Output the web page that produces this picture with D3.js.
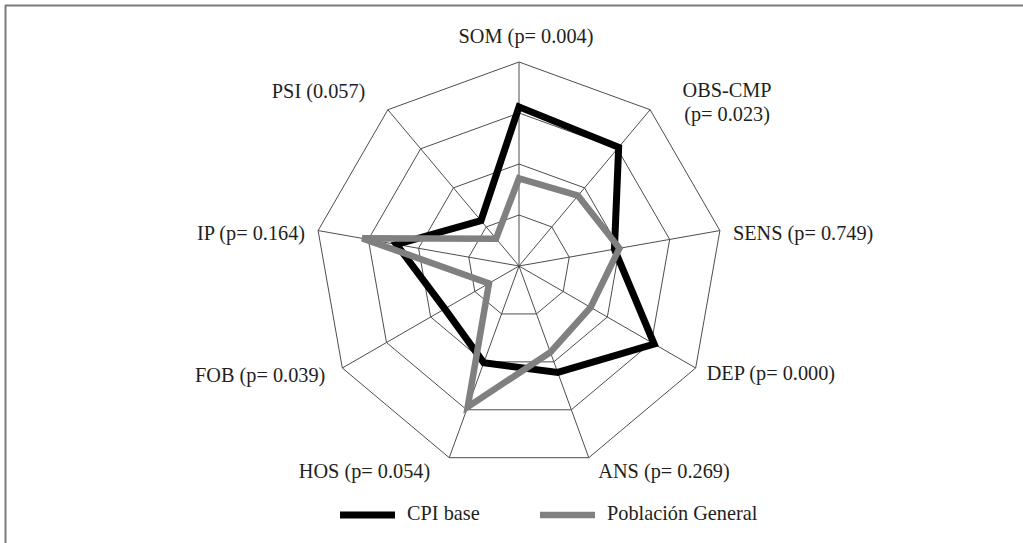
<!DOCTYPE html>
<html>
<head>
<meta charset="utf-8">
<script src="https://cdn.jsdelivr.net/npm/d3@7"></script>
<style>
  html, body { margin: 0; padding: 0; background: #fff; }
  svg { display: block; }
  text { font-family: "Liberation Serif", "DejaVu Serif", serif; fill: #231f20; }
</style>
</head>
<body>
<svg id="chart" width="1023" height="543"></svg>
<script>
// Scales on each axis (clockwise from the top)
const axes = ["SOM", "OBS-CMP", "SENS", "DEP", "ANS", "HOS", "FOB", "IP", "PSI"];
const axisLabels = [
  ["SOM (p= 0.004)"],
  ["OBS-CMP", "(p= 0.023)"],
  ["SENS (p= 0.749)"],
  ["DEP (p= 0.000)"],
  ["ANS (p= 0.269)"],
  ["HOS (p= 0.054)"],
  ["FOB (p= 0.039)"],
  ["IP (p= 0.164)"],
  ["PSI (0.057)"]
];
const seriesNames = ["CPI base", "Población General"];
const cpiBase = [78, 76, 47.5, 76.5, 55.5, 50.5, 42, 61, 29];
const poblacionGeneral = [43, 45, 50, 40.5, 45, 73.5, 17, 78, 17.5];
const gridLevels = [25, 50, 75, 100];

const svg = d3.select("#chart");
const W = 1023, H = 543;
const cx = 519, cy = 266, R = 204;

// Frame: top and left rules
svg.append("line").attr("x1", 5).attr("y1", 5.5).attr("x2", W).attr("y2", 5.5)
  .attr("stroke", "#7a7a7a").attr("stroke-width", 2);
svg.append("line").attr("x1", 5.5).attr("y1", 5).attr("x2", 5.5).attr("y2", H)
  .attr("stroke", "#7a7a7a").attr("stroke-width", 2);

const r = d3.scaleLinear().domain([0, 100]).range([0, R]);
const angle = d3.scaleLinear().domain([0, axes.length]).range([0, 2 * Math.PI]);

const g = svg.append("g").attr("transform", `translate(${cx},${cy})`);

const ring = d3.lineRadial()
  .angle((d, i) => angle(i))
  .radius(d => r(d))
  .curve(d3.curveLinearClosed);

// Grid polygons
g.selectAll("path.grid")
  .data(gridLevels)
  .join("path")
  .attr("class", "grid")
  .attr("d", lvl => ring(axes.map(() => lvl)))
  .attr("fill", "none")
  .attr("stroke", "#4d4d4d")
  .attr("stroke-width", 1);

// Spokes
g.selectAll("line.spoke")
  .data(axes)
  .join("line")
  .attr("class", "spoke")
  .attr("x1", 0).attr("y1", 0)
  .attr("x2", (d, i) => Math.sin(angle(i)) * r(100))
  .attr("y2", (d, i) => -Math.cos(angle(i)) * r(100))
  .attr("stroke", "#4d4d4d")
  .attr("stroke-width", 1);

// Series
const series = [
  { name: seriesNames[0], values: cpiBase, color: "#000000", width: 7 },
  { name: seriesNames[1], values: poblacionGeneral, color: "#808080", width: 6.5 }
];

g.selectAll("path.series")
  .data(series)
  .join("path")
  .attr("class", "series")
  .attr("d", s => ring(s.values))
  .attr("fill", "none")
  .attr("stroke", s => s.color)
  .attr("stroke-width", s => s.width)
  .attr("stroke-linejoin", "miter");

// Axis labels, placed relative to each outer vertex
const labelPlacement = [
  { dx: 7, dy: -19.5, anchor: "middle" },
  { dx: 77, dy: -13, anchor: "middle" },
  { dx: 13, dy: 9.5, anchor: "start" },
  { dx: 11, dy: 12, anchor: "start" },
  { dx: 9.5, dy: 20.5, anchor: "start" },
  { dx: -19, dy: 20.5, anchor: "end" },
  { dx: -17, dy: 13.5, anchor: "end" },
  { dx: -13, dy: 9.5, anchor: "end" },
  { dx: -22.5, dy: -11.5, anchor: "end" }
];

axes.forEach((a, i) => {
  const vx = Math.sin(angle(i)) * r(100);
  const vy = -Math.cos(angle(i)) * r(100);
  const p = labelPlacement[i];
  const t = g.append("text")
    .attr("x", vx + p.dx)
    .attr("y", vy + p.dy)
    .attr("text-anchor", p.anchor)
    .attr("font-size", 20.3);
  axisLabels[i].forEach((line, k) => {
    t.append("tspan")
      .attr("x", vx + p.dx)
      .attr("dy", k === 0 ? 0 : 24)
      .text(line);
  });
});

// Legend
const legend = svg.append("g").attr("transform", "translate(340,515)");
const legendX = d3.scalePoint().domain(seriesNames).range([0, 200]);
const item = legend.selectAll("g.item")
  .data(series)
  .join("g")
  .attr("class", "item")
  .attr("transform", s => `translate(${legendX(s.name)},0)`);
item.append("line")
  .attr("x1", 0).attr("x2", 55).attr("y1", 0).attr("y2", 0)
  .attr("stroke", s => s.color)
  .attr("stroke-width", s => s.width);
item.append("text")
  .attr("x", 67)
  .attr("y", 4.5)
  .attr("font-size", 20.3)
  .text(s => s.name);
</script>
</body>
</html>
